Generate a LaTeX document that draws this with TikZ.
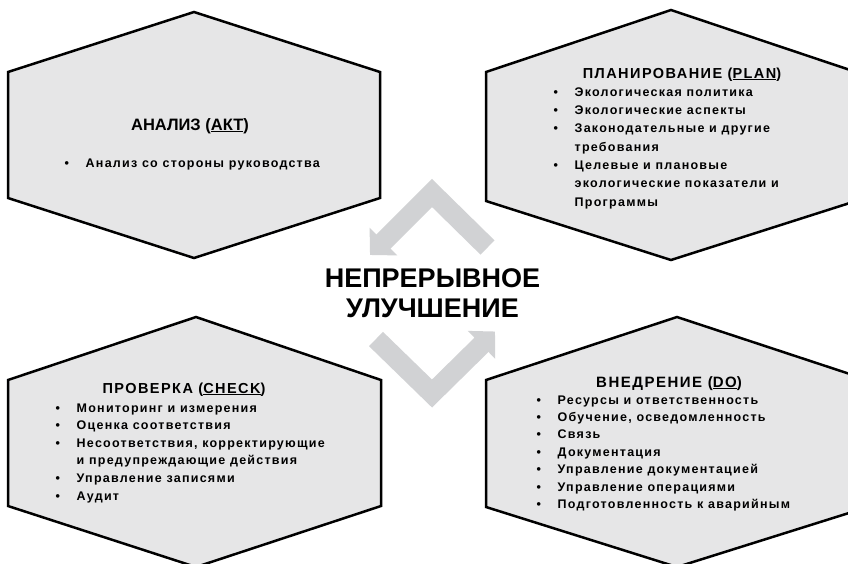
\documentclass[tikz,border=0pt]{standalone}
\usepackage{fontspec}
\setmainfont{Liberation Sans}
\newfontfamily\spacedfont[LetterSpace=10]{Liberation Sans}
\usetikzlibrary{arrows.meta}
\definecolor{hexfill}{RGB}{230,230,231}
\definecolor{arrowgray}{RGB}{209,210,212}
\newcommand{\hexitem}{\makebox[21pt][l]{\textbullet}}
\newcommand{\hexcont}{\makebox[21pt]{}}

\begin{document}
\begin{tikzpicture}[x=1pt,y=-1pt,
    hex box/.style={draw,fill=hexfill,line width=2.5pt},
    head text/.style={anchor=base,inner sep=0pt,font=\spacedfont\fontsize{14.5}{17}\selectfont\bfseries},
    item list/.style={anchor=base west,inner sep=0pt,align=left,font=\spacedfont\fontsize{12.5}{17.6}\selectfont\bfseries},
    cycle arrow/.style={draw=arrowgray,line width=20pt,-{Triangle[width=38pt,length=19pt]}}]
  \useasboundingbox[fill=white] (0,0) rectangle (848,563);
  \clip (0,0) rectangle (848,563);
  % hexagons
  \draw[hex box] (194,12) -- (380,72) -- (380,198) -- (194,258) -- (8,198) -- (8,72) -- cycle;
  \draw[hex box] (671,10) -- (856,72) -- (856,201) -- (671,260) -- (486,201) -- (486,72) -- cycle;
  \draw[hex box] (196,317) -- (381,380) -- (381,506) -- (196,567) -- (8,506) -- (8,380) -- cycle;
  \draw[hex box] (677,317) -- (868,380) -- (868,507) -- (677,567) -- (486,507) -- (486,380) -- cycle;
  % arrows round the title
  \coordinate (upstart) at (487.5,247.5);
  \coordinate (upapex) at (432,193);
  \coordinate (uptip) at (370,255);
  \coordinate (lowstart) at (376,339);
  \coordinate (lowapex) at (432,393.5);
  \coordinate (lowtip) at (495,331.5);
  \draw[cycle arrow] (upstart) -- (upapex) -- (uptip);
  \draw[cycle arrow] (lowstart) -- (lowapex) -- (lowtip);
  % title, anchored at the baseline of its last line
  \node[font=\fontsize{27}{30}\selectfont\bfseries,align=center,inner sep=0pt,anchor=base] (title) at (432.5,317) {НЕПРЕРЫВНОЕ\\УЛУЧШЕНИЕ};
  % headings
  \node[head text,font=\fontsize{16.5}{19}\selectfont\bfseries] (akthead) at (190,130) {АНАЛИЗ (\underline{АКТ})};
  \node[head text] (planhead) at (682,78) {ПЛАНИРОВАНИЕ (\underline{PLAN})};
  \node[head text] (checkhead) at (184,393) {ПРОВЕРКА (\underline{CHECK})};
  \node[head text,font=\spacedfont\fontsize{15}{17}\selectfont\bfseries] (dohead) at (669,387) {ВНЕДРЕНИЕ (\underline{DO})};
  % lists, anchored at the baseline of the last line
  \node[item list] (aktlist) at (64.5,167) {\hexitem Анализ со стороны руководства};
  \node[item list,font=\spacedfont\fontsize{12.5}{18.3}\selectfont\bfseries] (planlist) at (553.5,206)
    {\hexitem Экологическая политика\\ \hexitem Экологические аспекты\\
     \hexitem Законодательные и другие\\ \hexcont требования\\
     \hexitem Целевые и плановые\\ \hexcont экологические показатели и\\ \hexcont Программы};
  \node[item list] (checklist) at (55.5,500)
    {\hexitem Мониторинг и измерения\\ \hexitem Оценка соответствия\\
     \hexitem Несоответствия, корректирующие\\ \hexcont и предупреждающие действия\\
     \hexitem Управление записями\\ \hexitem Аудит};
  \node[item list,font=\spacedfont\fontsize{12.5}{17.4}\selectfont\bfseries] (dolist) at (536.5,508.5)
    {\hexitem Ресурсы и ответственность\\ \hexitem Обучение, осведомленность\\
     \hexitem Связь\\ \hexitem Документация\\ \hexitem Управление документацией\\
     \hexitem Управление операциями\\ \hexitem Подготовленность к аварийным};
\end{tikzpicture}
\end{document}
